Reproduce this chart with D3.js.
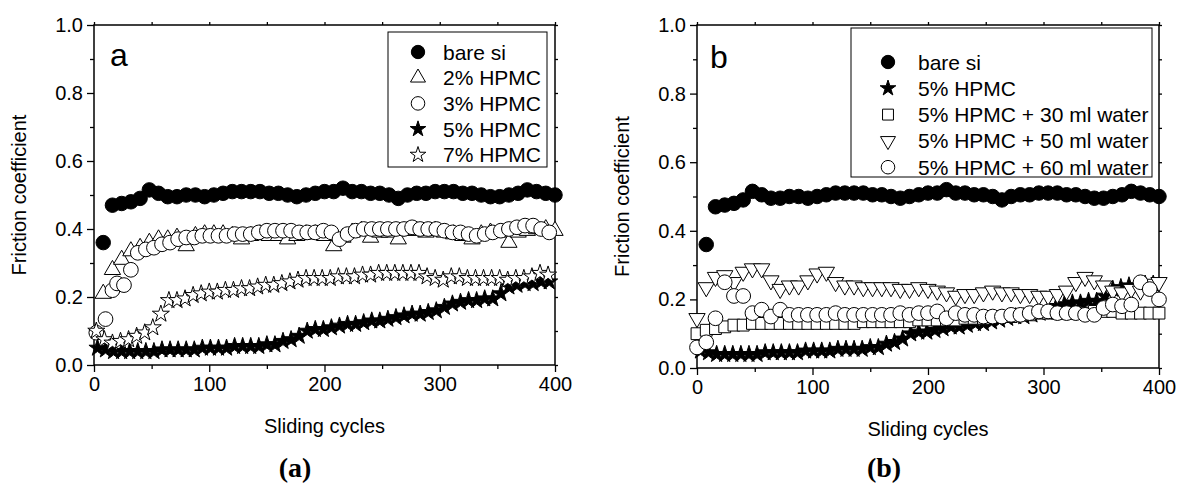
<!DOCTYPE html>
<html>
<head>
<meta charset="utf-8">
<script src="https://cdn.jsdelivr.net/npm/d3@7"></script>
<style>
    body { margin: 0; background: #fff; }
    svg text { font-family: "Liberation Sans", Arial, sans-serif; fill: #000; }
</style>
</head>
<body>
<svg id="canvas" width="1179" height="486"></svg>
<script>
// ---- data ----
const xTicks = [0, 100, 200, 300, 400];
const xMinorTicks = [50, 150, 250, 350];
const yTicks = [0, 0.2, 0.4, 0.6, 0.8, 1.0];
const yMinorTicks = [0.1, 0.3, 0.5, 0.7, 0.9];

const bareSiX = [8, 16, 24, 32, 40, 48, 56, 64, 72, 80, 88, 96, 104, 112, 120, 128, 136, 144, 152, 160, 168, 176, 184, 192, 200,
    208, 216, 224, 232, 240, 248, 256, 264, 272, 280, 288, 296, 304, 312, 320, 328, 336, 344, 352, 360, 368, 376, 384, 392, 400];
const bareSi = [0.36, 0.47, 0.475, 0.48, 0.49, 0.515, 0.505, 0.495, 0.495, 0.50, 0.50, 0.495, 0.50, 0.505, 0.51, 0.51, 0.51, 0.51, 0.505, 0.505,
    0.50, 0.495, 0.50, 0.505, 0.51, 0.51, 0.52, 0.51, 0.51, 0.505, 0.505, 0.50, 0.49, 0.50, 0.505, 0.505, 0.51, 0.51, 0.51, 0.505,
    0.505, 0.50, 0.495, 0.495, 0.50, 0.505, 0.515, 0.51, 0.505, 0.50];

const hpmc2X = bareSiX;
const hpmc2 = [0.21, 0.28, 0.31, 0.335, 0.345, 0.36, 0.37, 0.37, 0.375, 0.35, 0.38, 0.385, 0.385, 0.385, 0.38, 0.37, 0.38, 0.385, 0.38, 0.38,
    0.37, 0.38, 0.385, 0.385, 0.38, 0.35, 0.375, 0.39, 0.395, 0.375, 0.39, 0.39, 0.37, 0.395, 0.395, 0.39, 0.395, 0.39, 0.385, 0.38,
    0.37, 0.385, 0.39, 0.39, 0.36, 0.39, 0.395, 0.40, 0.40, 0.395];

const hpmc3X = [2, 10, 16, 20, 26, 32, 38, 45, 52, 59, 66, 73, 80, 87, 94, 101, 108, 115, 122, 129, 136, 143, 150, 157, 164, 171, 178,
    185, 192, 199, 206, 213, 220, 227, 234, 241, 248, 255, 262, 269, 276, 283, 290, 297, 304, 311, 318, 325, 332, 339, 346, 353, 360,
    367, 374, 381, 388, 395];
const hpmc3 = [0.095, 0.135, 0.22, 0.24, 0.235, 0.28, 0.33, 0.34, 0.345, 0.355, 0.36, 0.37, 0.375, 0.375, 0.38, 0.38, 0.38, 0.38, 0.385,
    0.385, 0.385, 0.39, 0.395, 0.395, 0.395, 0.395, 0.39, 0.39, 0.39, 0.395, 0.39, 0.37, 0.385, 0.395, 0.40, 0.40, 0.40, 0.40, 0.40,
    0.40, 0.405, 0.40, 0.40, 0.40, 0.395, 0.39, 0.39, 0.385, 0.38, 0.385, 0.39, 0.395, 0.40, 0.405, 0.41, 0.41, 0.40, 0.39];

const hpmc5X = [3, 10, 17, 24, 31, 38, 45, 52, 59, 66, 73, 80, 87, 94, 101, 108, 115, 122, 129, 136, 143, 150, 157, 164, 171, 178, 185,
    192, 199, 206, 213, 220, 227, 234, 241, 248, 255, 262, 269, 276, 283, 290, 297, 304, 311, 318, 325, 332, 339, 346, 353, 360, 367,
    374, 381, 388, 395];
const hpmc5 = [0.05, 0.045, 0.04, 0.04, 0.04, 0.04, 0.04, 0.04, 0.045, 0.045, 0.045, 0.045, 0.045, 0.05, 0.05, 0.05, 0.05, 0.055, 0.055,
    0.055, 0.055, 0.06, 0.06, 0.07, 0.075, 0.085, 0.10, 0.105, 0.105, 0.11, 0.115, 0.12, 0.12, 0.125, 0.13, 0.13, 0.135, 0.14, 0.145,
    0.15, 0.15, 0.155, 0.16, 0.17, 0.18, 0.185, 0.19, 0.19, 0.195, 0.195, 0.21, 0.23, 0.235, 0.24, 0.24, 0.245, 0.245];

const hpmc7X = [2, 9, 16, 23, 30, 37, 44, 51, 58, 65, 72, 79, 86, 93, 100, 107, 114, 121, 128, 135, 142, 149, 156, 163, 170, 177, 184,
    191, 198, 205, 212, 219, 226, 233, 240, 247, 254, 261, 268, 275, 282, 289, 296, 303, 310, 317, 324, 331, 338, 345, 352, 359, 366,
    373, 380, 387, 394];
const hpmc7 = [0.10, 0.075, 0.065, 0.07, 0.075, 0.085, 0.095, 0.11, 0.15, 0.19, 0.19, 0.195, 0.205, 0.21, 0.215, 0.215, 0.22, 0.22,
    0.225, 0.225, 0.23, 0.235, 0.235, 0.24, 0.245, 0.25, 0.255, 0.255, 0.255, 0.255, 0.26, 0.26, 0.26, 0.265, 0.265, 0.27, 0.27, 0.27,
    0.27, 0.27, 0.27, 0.26, 0.255, 0.25, 0.26, 0.26, 0.255, 0.255, 0.255, 0.255, 0.255, 0.25, 0.255, 0.255, 0.26, 0.27, 0.265];

const waterX = [0, 8, 16, 24, 32, 40, 48, 56, 64, 72, 80, 88, 96, 104, 112, 120, 128, 136, 144, 152, 160, 168, 176, 184, 192, 200,
    208, 216, 224, 232, 240, 248, 256, 264, 272, 280, 288, 296, 304, 312, 320, 328, 336, 344, 352, 360, 368, 376, 384, 392, 400];
const water30 = [0.10, 0.11, 0.115, 0.12, 0.125, 0.125, 0.13, 0.13, 0.13, 0.13, 0.13, 0.13, 0.13, 0.13, 0.13, 0.13, 0.13, 0.13, 0.135,
    0.135, 0.135, 0.135, 0.135, 0.135, 0.14, 0.14, 0.14, 0.14, 0.14, 0.145, 0.145, 0.145, 0.15, 0.15, 0.15, 0.155, 0.155, 0.16, 0.16,
    0.16, 0.16, 0.16, 0.16, 0.165, 0.165, 0.165, 0.16, 0.16, 0.16, 0.16, 0.16];
const water50 = [0.145, 0.235, 0.265, 0.27, 0.25, 0.28, 0.29, 0.29, 0.255, 0.23, 0.24, 0.24, 0.255, 0.275, 0.28, 0.25, 0.24, 0.24, 0.235,
    0.235, 0.235, 0.235, 0.23, 0.23, 0.235, 0.23, 0.225, 0.22, 0.21, 0.215, 0.215, 0.22, 0.225, 0.22, 0.22, 0.215, 0.215, 0.21, 0.21,
    0.215, 0.225, 0.25, 0.265, 0.255, 0.24, 0.225, 0.22, 0.23, 0.225, 0.245, 0.25];
const water60 = [0.06, 0.075, 0.145, 0.25, 0.21, 0.21, 0.16, 0.17, 0.15, 0.17, 0.155, 0.155, 0.155, 0.155, 0.155, 0.16, 0.155, 0.155,
    0.155, 0.155, 0.155, 0.155, 0.16, 0.155, 0.16, 0.16, 0.165, 0.145, 0.16, 0.155, 0.155, 0.15, 0.15, 0.15, 0.155, 0.155, 0.16, 0.165,
    0.165, 0.16, 0.16, 0.16, 0.155, 0.155, 0.175, 0.185, 0.18, 0.185, 0.25, 0.23, 0.20];

// ---- marker styles ----
const markers = {
    dot: { type: d3.symbolCircle, size: 165, fill: "#000", rotate: 0 },
    triUp: { type: d3.symbolTriangle, size: 115, fill: "#fff", rotate: 0 },
    circle: { type: d3.symbolCircle, size: 170, fill: "#fff", rotate: 0 },
    star: { type: d3.symbolStar, size: 90, fill: "#000", rotate: 0 },
    openStar: { type: d3.symbolStar, size: 90, fill: "#fff", rotate: 0 },
    square: { type: d3.symbolSquare, size: 140, fill: "#fff", rotate: 0 },
    triDown: { type: d3.symbolTriangle, size: 115, fill: "#fff", rotate: 180 }
};

const svg = d3.select("#canvas");

const drawPanel = (p) => {
    const g = svg.append("g").attr("transform", `translate(${p.left},${p.top})`);
    const x = d3.scaleLinear().domain([0, 400]).range([0, p.width]);
    const y = d3.scaleLinear().domain([0, 1]).range([p.height, 0]);

    const styleAxis = (sel, labels) => {
        sel.select(".domain").remove();
        sel.selectAll(".tick line").attr("stroke", "#000").attr("stroke-width", 1.3);
        sel.selectAll("text").attr("font-size", labels ? 20 : 0).attr("font-family", "Liberation Sans, Arial, sans-serif").attr("fill", "#000");
    };

    // bottom + left (labelled)
    g.append("g").attr("transform", `translate(0,${p.height})`)
        .call(d3.axisBottom(x).tickValues(xTicks).tickSize(7).tickPadding(5).tickFormat(d3.format("d")))
        .call(s => styleAxis(s, true));
    g.append("g").attr("transform", `translate(0,${p.height})`)
        .call(d3.axisBottom(x).tickValues(xMinorTicks).tickSize(4).tickFormat(""))
        .call(s => styleAxis(s, false));
    g.append("g")
        .call(d3.axisLeft(y).tickValues(yTicks).tickSize(7).tickPadding(4).tickFormat(d3.format(".1f")))
        .call(s => styleAxis(s, true));
    g.append("g")
        .call(d3.axisLeft(y).tickValues(yMinorTicks).tickSize(4).tickFormat(""))
        .call(s => styleAxis(s, false));
    // top + right mirrors
    g.append("g").call(d3.axisTop(x).tickValues(xTicks.concat(xMinorTicks)).tickSize(3).tickFormat("")).call(s => styleAxis(s, false));
    g.append("g").attr("transform", `translate(${p.width},0)`)
        .call(d3.axisRight(y).tickValues(yTicks.concat(yMinorTicks)).tickSize(3).tickFormat("")).call(s => styleAxis(s, false));

    // frame
    g.append("rect")
        .attr("width", p.width)
        .attr("height", p.height)
        .attr("fill", "none")
        .attr("stroke", "#000")
        .attr("stroke-width", 1.5);

    // series
    p.series.forEach(s => {
        const m = markers[s.marker];
        g.append("g").selectAll("path")
            .data(s.xs.map((v, i) => [v, s.ys[i]]))
            .enter()
            .append("path")
            .attr("d", d3.symbol().type(m.type).size(m.size))
            .attr("transform", d => `translate(${x(d[0])},${y(d[1])}) rotate(${m.rotate})`)
            .attr("fill", m.fill)
            .attr("stroke", "#000")
            .attr("stroke-width", 1);
    });

    // legend
    const lg = p.legend;
    g.append("rect")
        .attr("x", lg.x)
        .attr("y", lg.y)
        .attr("width", lg.w)
        .attr("height", lg.h)
        .attr("fill", "#fff")
        .attr("stroke", "#000")
        .attr("stroke-width", 1);
    p.series.forEach((s, i) => {
        const m = markers[s.marker];
        const ry = lg.firstRow + i * lg.rowStep;
        g.append("path")
            .attr("d", d3.symbol().type(m.type).size(m.size * 0.85))
            .attr("transform", `translate(${lg.symX},${ry}) rotate(${m.rotate})`)
            .attr("fill", m.fill)
            .attr("stroke", "#000")
            .attr("stroke-width", 1);
        g.append("text")
            .attr("x", lg.textX)
            .attr("y", ry)
            .attr("dy", "0.36em")
            .attr("font-size", 21)
            .text(s.name);
    });

    // panel letter
    g.append("text").attr("x", p.letterX).attr("y", p.letterY).attr("font-size", 32).text(p.letter);

    // axis titles
    g.append("text")
        .attr("x", p.width / 2)
        .attr("y", p.height + 68)
        .attr("text-anchor", "middle")
        .attr("font-size", 20)
        .text("Sliding cycles");
    g.append("text")
        .attr("transform", `translate(-68,${p.height / 2}) rotate(-90)`)
        .attr("text-anchor", "middle")
        .attr("font-size", 20)
        .text("Friction coefficient");

    // caption
    svg.append("text")
        .attr("x", p.captionX)
        .attr("y", 477)
        .attr("text-anchor", "middle")
        .attr("font-size", 28)
        .attr("font-weight", "bold")
        .style("font-family", "Liberation Serif, 'Times New Roman', serif")
        .text(p.caption);
};

drawPanel({
    left: 94, top: 25, width: 461, height: 340,
    letter: "a", letterX: 16, letterY: 41,
    caption: "(a)", captionX: 295,
    legend: { x: 294, y: 7, w: 159, h: 135, symX: 324, textX: 349, firstRow: 27, rowStep: 25.7 },
    series: [
        { name: "bare si", marker: "dot", xs: bareSiX, ys: bareSi },
        { name: "2% HPMC", marker: "triUp", xs: hpmc2X, ys: hpmc2 },
        { name: "3% HPMC", marker: "circle", xs: hpmc3X, ys: hpmc3 },
        { name: "5% HPMC", marker: "star", xs: hpmc5X, ys: hpmc5 },
        { name: "7% HPMC", marker: "openStar", xs: hpmc7X, ys: hpmc7 }
    ]
});

drawPanel({
    left: 697, top: 25, width: 462, height: 343,
    letter: "b", letterX: 13, letterY: 43,
    caption: "(b)", captionX: 884,
    legend: { x: 154, y: 3, w: 301, h: 149, symX: 191, textX: 221, firstRow: 37, rowStep: 26.3 },
    series: [
        { name: "bare si", marker: "dot", xs: bareSiX, ys: bareSi },
        { name: "5% HPMC", marker: "star", xs: hpmc5X, ys: hpmc5 },
        { name: "5% HPMC + 30 ml water", marker: "square", xs: waterX, ys: water30 },
        { name: "5% HPMC + 50 ml water", marker: "triDown", xs: waterX, ys: water50 },
        { name: "5% HPMC + 60 ml water", marker: "circle", xs: waterX, ys: water60 }
    ]
});
</script>
</body>
</html>
